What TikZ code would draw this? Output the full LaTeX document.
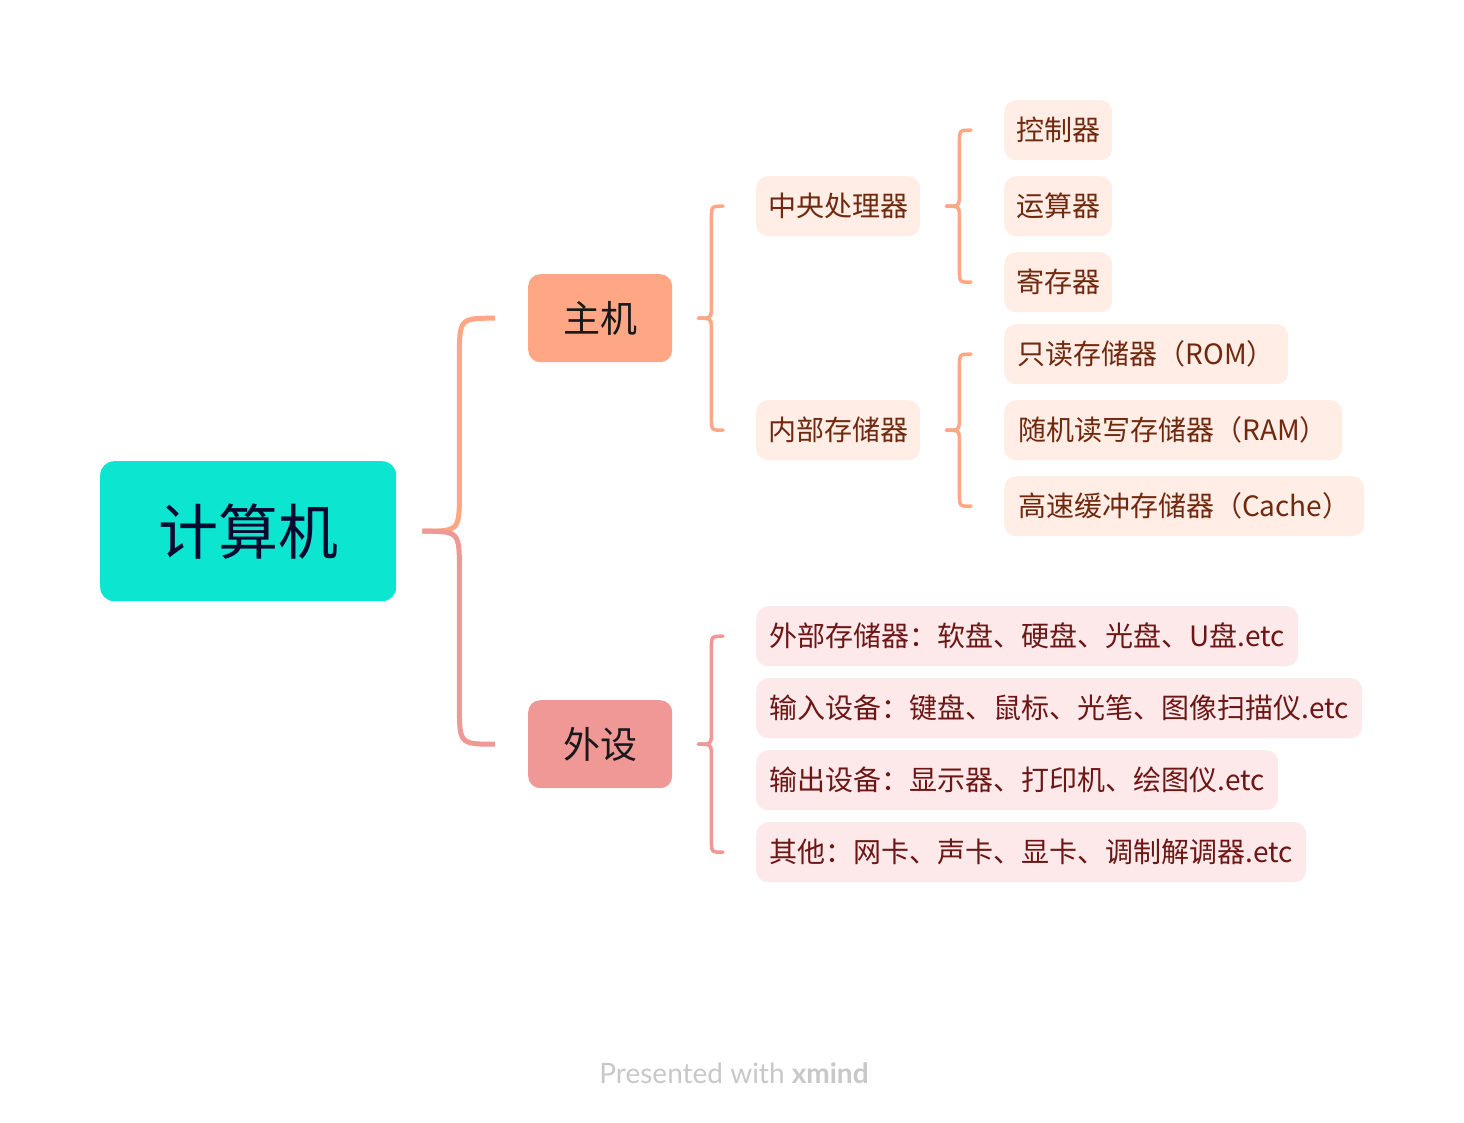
\documentclass[tikz,border=0pt]{standalone}
\usepackage{fontspec}
\setmainfont{Noto Sans CJK SC}
\newfontfamily\footfont{Lato}
\usetikzlibrary{calc}
\definecolor{rootfill}{RGB}{12,229,207}
\definecolor{roottext}{RGB}{10,10,48}
\definecolor{mainorange}{RGB}{255,167,132}
\definecolor{mainpink}{RGB}{240,152,150}
\definecolor{suborange}{RGB}{255,237,230}
\definecolor{subpink}{RGB}{253,233,233}
\definecolor{browntext}{RGB}{112,40,14}
\definecolor{redtext}{RGB}{108,22,22}
\definecolor{foot}{RGB}{200,200,200}
\newcommand\bracelink[5]{%
  \draw[#1] let \p1=($(#2.east)+(26,0)$), \p2=($(#3.west)+(-33,0)$) in
    (\p1) .. controls (\x1+#4,\y1) .. (\x1+#4,{\y1+#5*sign(\y2-\y1)})
    -- (\x1+#4,{\y2-#5*sign(\y2-\y1)}) .. controls (\x1+#4,\y2) .. (\p2);}
\tikzset{
  box/.style={anchor=north west, inner sep=0pt, rounded corners=12pt},
  rootbox/.style={box, fill=rootfill, text=roottext, minimum width=296pt, minimum height=140pt, rounded corners=14pt, font=\fontsize{60}{70}\selectfont},
  mainbox/.style={box, text=black!90, minimum width=144pt, minimum height=88pt, font=\fontsize{37}{44}\selectfont},
  subo/.style={box, fill=suborange, text=browntext, minimum height=60pt, font=\fontsize{28}{34}\selectfont},
  subp/.style={box, fill=subpink, text=redtext, minimum height=60pt, font=\fontsize{28}{34}\selectfont},
  obrace/.style={draw=mainorange, line width=3.5pt, line cap=round},
  pbrace/.style={draw=mainpink, line width=3.5pt, line cap=round},
  obraceroot/.style={draw=mainorange, line width=5pt},
  pbraceroot/.style={draw=mainpink, line width=5pt},
}
\begin{document}
\begin{tikzpicture}[x=1pt,y=-1pt]
\path[use as bounding box, fill=white] (0,0) rectangle (1464,1122);
% nodes
\node[rootbox] (root) at (100,461) {计算机};
\node[mainbox, fill=mainorange] (zhuji) at (528,274) {主机};
\node[mainbox, fill=mainpink] (waishe) at (528,700) {外设};
\node[subo, minimum width=164pt] (cpu) at (756,176) {中央处理器};
\node[subo, minimum width=164pt] (mem) at (756,400) {内部存储器};
\node[subo, minimum width=108pt] (ctrl) at (1004,100) {控制器};
\node[subo, minimum width=108pt] (alu) at (1004,176) {运算器};
\node[subo, minimum width=108pt] (reg) at (1004,252) {寄存器};
\node[subo, minimum width=284pt] (rom) at (1004,324) {只读存储器（ROM）};
\node[subo, minimum width=338pt] (ram) at (1004,400) {随机读写存储器（RAM）};
\node[subo, minimum width=360pt] (cache) at (1004,476) {高速缓冲存储器（Cache）};
\node[subp, minimum width=542pt] (ext) at (756,606) {外部存储器：软盘、硬盘、光盘、U盘.etc};
\node[subp, minimum width=606pt] (inp) at (756,678) {输入设备：键盘、鼠标、光笔、图像扫描仪.etc};
\node[subp, minimum width=522pt] (outp) at (756,750) {输出设备：显示器、打印机、绘图仪.etc};
\node[subp, minimum width=550pt] (other) at (756,822) {其他：网卡、声卡、显卡、调制解调器.etc};
% connectors
\bracelink{obraceroot}{root}{zhuji}{37}{40}
\bracelink{pbraceroot}{root}{waishe}{37}{40}
\bracelink{obrace}{zhuji}{cpu}{13}{13}
\bracelink{obrace}{zhuji}{mem}{13}{13}
\bracelink{obrace}{cpu}{ctrl}{13}{13}
\bracelink{obrace}{cpu}{reg}{13}{13}
\bracelink{obrace}{mem}{rom}{13}{13}
\bracelink{obrace}{mem}{cache}{13}{13}
\bracelink{pbrace}{waishe}{ext}{13}{13}
\bracelink{pbrace}{waishe}{other}{13}{13}
% footer
\node[text=foot, font=\footfont\fontsize{28}{32}\selectfont] (footer) at (734,1073) {Presented with \textbf{xmind}};
\end{tikzpicture}
\end{document}
